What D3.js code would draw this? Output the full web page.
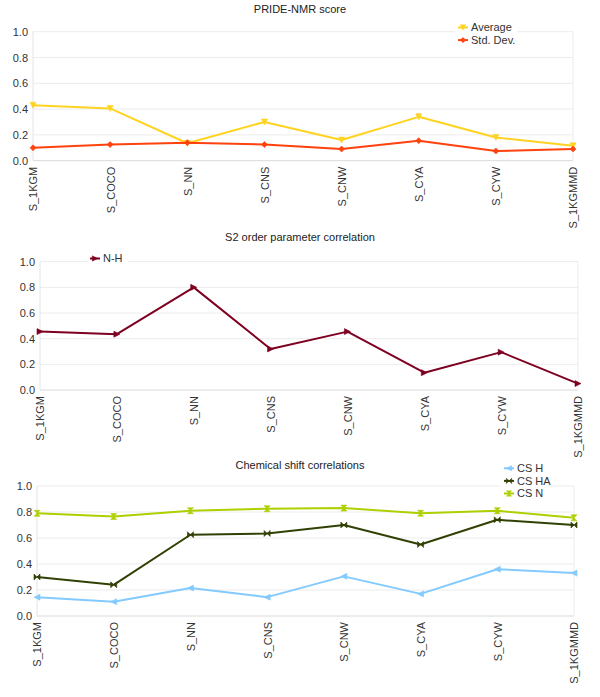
<!DOCTYPE html>
<html>
<head>
<meta charset="utf-8">
<script src="https://cdn.jsdelivr.net/npm/d3@7"></script>
<style>
  body { margin: 0; background: #fff; }
  svg { display: block; font-family: "Liberation Sans", Arial, sans-serif; }
</style>
</head>
<body>
<svg id="chart" width="600" height="697"></svg>
<script>
// ---- DATA ----
const categories = ["S_1KGM", "S_COCO", "S_NN", "S_CNS", "S_CNW", "S_CYA", "S_CYW", "S_1KGMMD"];
const yTicks = [0, 0.2, 0.4, 0.6, 0.8, 1.0];

const prideTitle = "PRIDE-NMR score";
const prideAverage = [0.43, 0.405, 0.135, 0.30, 0.16, 0.34, 0.18, 0.115];
const prideStdDev  = [0.10, 0.125, 0.14, 0.125, 0.09, 0.155, 0.075, 0.09];

const s2Title = "S2 order parameter correlation";
const s2NH = [0.455, 0.435, 0.80, 0.32, 0.455, 0.135, 0.295, 0.05];

const csTitle = "Chemical shift correlations";
const csH  = [0.145, 0.11, 0.215, 0.145, 0.305, 0.17, 0.36, 0.33];
const csHA = [0.30, 0.24, 0.625, 0.635, 0.70, 0.55, 0.74, 0.70];
const csN  = [0.79, 0.765, 0.81, 0.825, 0.83, 0.79, 0.81, 0.755];

// ---- STYLE / LAYOUT ----
const S = 3;
const symbols = {
  diamond: `M0,${-S}L${S},0L0,${S}L${-S},0Z`,
  down: `M${-S},${-S}L${S},${-S}L0,${S}Z`,
  right: `M${-S},${-S}L${S},0L${-S},${S}Z`,
  left: `M${S},${-S}L${-S},0L${S},${S}Z`,
  bowtie: `M${-S},${-S}L${S},${S}L${S},${-S}L${-S},${S}Z`,
  hourglass: `M${-S},${-S}L${S},${-S}L${-S},${S}L${S},${S}Z`
};

const panels = [
  {
    title: prideTitle, titleY: 13, left: 33, right: 573, top: 31.7, bottom: 160.7,
    legend: { x: 458, y: 27.5, box: [455, 21, 62, 26] },
    series: [
      { name: "Average", values: prideAverage, color: "#ffd320", sym: "down" },
      { name: "Std. Dev.", values: prideStdDev, color: "#ff420e", sym: "diamond" }
    ]
  },
  {
    title: s2Title, titleY: 241, left: 40, right: 578, top: 261.7, bottom: 390,
    legend: { x: 90, y: 258.5, box: [88, 252, 40, 13] },
    series: [
      { name: "N-H", values: s2NH, color: "#7e0021", sym: "right" }
    ]
  },
  {
    title: csTitle, titleY: 469, left: 37, right: 574, top: 486, bottom: 616,
    legend: { x: 504, y: 468.3, box: [500, 462, 48, 38] },
    series: [
      { name: "CS H", values: csH, color: "#83caff", sym: "left" },
      { name: "CS HA", values: csHA, color: "#314004", sym: "bowtie" },
      { name: "CS N", values: csN, color: "#aecf00", sym: "hourglass" }
    ]
  }
];

const svg = d3.select("#chart");

panels.forEach(p => {
  const g = svg.append("g");
  const x = d3.scalePoint().domain(categories).range([p.left, p.right]);
  const y = d3.scaleLinear().domain([0, 1]).range([p.bottom, p.top]);

  g.append("text").attr("x", 300).attr("y", p.titleY)
    .attr("text-anchor", "middle").attr("font-size", 11).attr("fill", "#222")
    .text(p.title);

  g.append("g").selectAll("line").data(yTicks).join("line")
    .attr("x1", p.left).attr("x2", p.right)
    .attr("y1", d => y(d)).attr("y2", d => y(d))
    .attr("stroke", d => d === 0 ? "#d9d9d9" : "#ececec").attr("stroke-width", 1);
  g.append("line").attr("x1", p.right).attr("x2", p.right).attr("y1", p.top).attr("y2", p.bottom)
    .attr("stroke", "#ececec");
  g.append("line").attr("x1", p.left).attr("x2", p.left).attr("y1", p.top).attr("y2", p.bottom)
    .attr("stroke", "#e4e4e4");

  const yAxis = d3.axisLeft(y).tickValues(yTicks).tickFormat(d3.format(".1f")).tickSize(0).tickPadding(5);
  const ya = g.append("g").attr("transform", `translate(${p.left},0)`).call(yAxis);
  ya.select(".domain").remove();
  ya.selectAll("text").attr("font-size", 11).attr("fill", "#333")
    .attr("font-family", "Liberation Sans, Arial, sans-serif");

  const xAxis = d3.axisBottom(x).tickSize(0).tickPadding(0);
  const xa = g.append("g").attr("transform", `translate(0,${p.bottom})`).call(xAxis);
  xa.select(".domain").remove();
  xa.selectAll("text")
    .attr("font-size", 11).attr("fill", "#333")
    .attr("font-family", "Liberation Sans, Arial, sans-serif")
    .attr("text-anchor", "end")
    .attr("transform", "rotate(-90)")
    .attr("x", -6).attr("y", 0).attr("dy", "0.35em");

  const line = d3.line().x((d, i) => x(categories[i])).y(d => y(d));
  p.series.forEach(s => {
    g.append("path").datum(s.values)
      .attr("d", line).attr("fill", "none")
      .attr("stroke", s.color).attr("stroke-width", 2).attr("stroke-linejoin", "round");
    g.append("g").selectAll("path").data(s.values).join("path")
      .attr("d", symbols[s.sym])
      .attr("transform", (d, i) => `translate(${x(categories[i])},${y(d)})`)
      .attr("fill", s.color).attr("stroke", s.color).attr("stroke-width", 0.6);
  });

  const lg = g.append("g");
  const b = p.legend.box;
  lg.append("rect").attr("x", b[0]).attr("y", b[1]).attr("width", b[2]).attr("height", b[3]).attr("fill", "#fff");
  p.series.forEach((s, i) => {
    const ly = p.legend.y + i * 12.6;
    lg.append("line").attr("x1", p.legend.x).attr("x2", p.legend.x + 10)
      .attr("y1", ly).attr("y2", ly).attr("stroke", s.color).attr("stroke-width", 2);
    lg.append("path").attr("d", symbols[s.sym])
      .attr("transform", `translate(${p.legend.x + 5},${ly}) scale(0.9)`)
      .attr("fill", s.color).attr("stroke", s.color).attr("stroke-width", 0.5);
    lg.append("text").attr("x", p.legend.x + 13).attr("y", ly).attr("dy", "0.35em")
      .attr("font-size", 11).attr("fill", "#333").text(s.name);
  });
});
</script>
</body>
</html>
